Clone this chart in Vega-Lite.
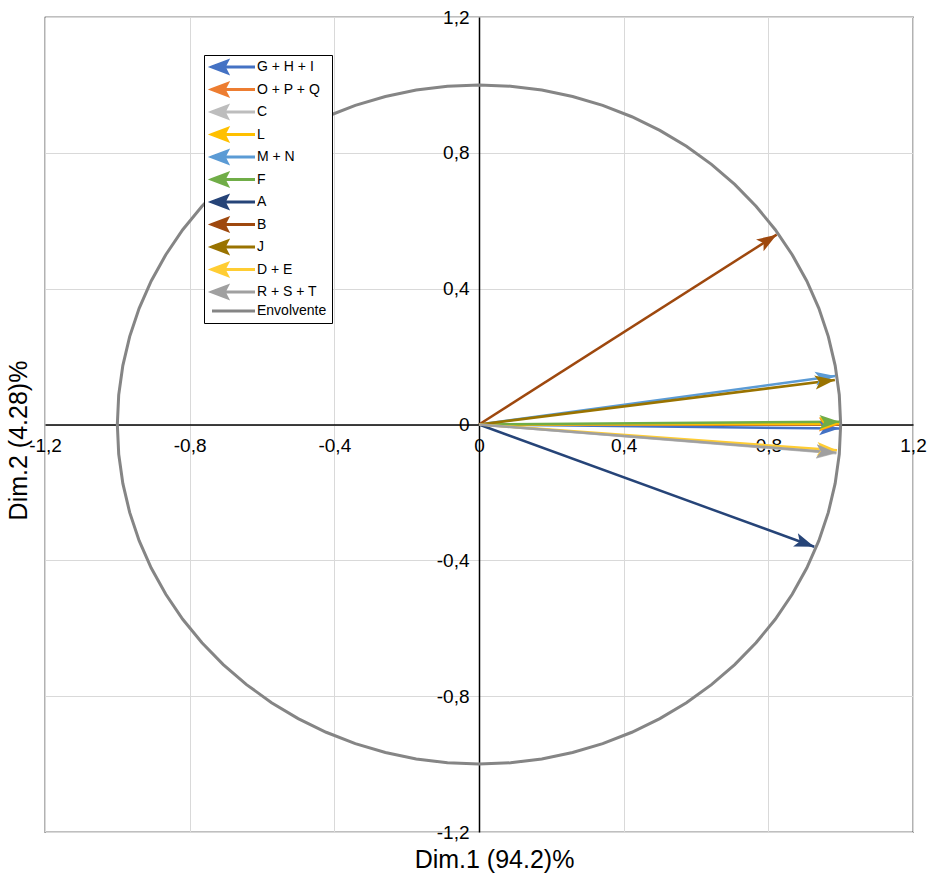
{
  "$schema": "https://vega.github.io/schema/vega-lite/v6.json",
  "width": 868,
  "height": 815,
  "autosize": {"type": "none"},
  "padding": {"left": 45, "top": 17, "right": 17, "bottom": 45},
  "background": "white",
  "config": {
    "font": "Liberation Sans",
    "view": {"stroke": "black", "strokeWidth": 1.2}
  },
  "datasets": {
    "arrows": [
      {"series": "G + H + I", "x": 0.996, "y": -0.012},
      {"series": "O + P + Q", "x": 0.995, "y": 0.0},
      {"series": "C", "x": 0.988, "y": -0.085},
      {"series": "L", "x": 0.996, "y": 0.002},
      {"series": "M + N", "x": 0.985, "y": 0.143},
      {"series": "F", "x": 0.997, "y": 0.008},
      {"series": "A", "x": 0.927, "y": -0.36},
      {"series": "B", "x": 0.823, "y": 0.559},
      {"series": "J", "x": 0.984, "y": 0.131},
      {"series": "D + E", "x": 0.99, "y": -0.076},
      {"series": "R + S + T", "x": 0.988, "y": -0.083}
    ],
    "circle": [
      {"i": 0, "x": 1, "y": 0},
      {"i": 1, "x": 0.9962, "y": 0.0872},
      {"i": 2, "x": 0.9848, "y": 0.1736},
      {"i": 3, "x": 0.9659, "y": 0.2588},
      {"i": 4, "x": 0.9397, "y": 0.342},
      {"i": 5, "x": 0.9063, "y": 0.4226},
      {"i": 6, "x": 0.866, "y": 0.5},
      {"i": 7, "x": 0.8192, "y": 0.5736},
      {"i": 8, "x": 0.766, "y": 0.6428},
      {"i": 9, "x": 0.7071, "y": 0.7071},
      {"i": 10, "x": 0.6428, "y": 0.766},
      {"i": 11, "x": 0.5736, "y": 0.8192},
      {"i": 12, "x": 0.5, "y": 0.866},
      {"i": 13, "x": 0.4226, "y": 0.9063},
      {"i": 14, "x": 0.342, "y": 0.9397},
      {"i": 15, "x": 0.2588, "y": 0.9659},
      {"i": 16, "x": 0.1736, "y": 0.9848},
      {"i": 17, "x": 0.0872, "y": 0.9962},
      {"i": 18, "x": 0, "y": 1},
      {"i": 19, "x": -0.0872, "y": 0.9962},
      {"i": 20, "x": -0.1736, "y": 0.9848},
      {"i": 21, "x": -0.2588, "y": 0.9659},
      {"i": 22, "x": -0.342, "y": 0.9397},
      {"i": 23, "x": -0.4226, "y": 0.9063},
      {"i": 24, "x": -0.5, "y": 0.866},
      {"i": 25, "x": -0.5736, "y": 0.8192},
      {"i": 26, "x": -0.6428, "y": 0.766},
      {"i": 27, "x": -0.7071, "y": 0.7071},
      {"i": 28, "x": -0.766, "y": 0.6428},
      {"i": 29, "x": -0.8192, "y": 0.5736},
      {"i": 30, "x": -0.866, "y": 0.5},
      {"i": 31, "x": -0.9063, "y": 0.4226},
      {"i": 32, "x": -0.9397, "y": 0.342},
      {"i": 33, "x": -0.9659, "y": 0.2588},
      {"i": 34, "x": -0.9848, "y": 0.1736},
      {"i": 35, "x": -0.9962, "y": 0.0872},
      {"i": 36, "x": -1, "y": 0},
      {"i": 37, "x": -0.9962, "y": -0.0872},
      {"i": 38, "x": -0.9848, "y": -0.1736},
      {"i": 39, "x": -0.9659, "y": -0.2588},
      {"i": 40, "x": -0.9397, "y": -0.342},
      {"i": 41, "x": -0.9063, "y": -0.4226},
      {"i": 42, "x": -0.866, "y": -0.5},
      {"i": 43, "x": -0.8192, "y": -0.5736},
      {"i": 44, "x": -0.766, "y": -0.6428},
      {"i": 45, "x": -0.7071, "y": -0.7071},
      {"i": 46, "x": -0.6428, "y": -0.766},
      {"i": 47, "x": -0.5736, "y": -0.8192},
      {"i": 48, "x": -0.5, "y": -0.866},
      {"i": 49, "x": -0.4226, "y": -0.9063},
      {"i": 50, "x": -0.342, "y": -0.9397},
      {"i": 51, "x": -0.2588, "y": -0.9659},
      {"i": 52, "x": -0.1736, "y": -0.9848},
      {"i": 53, "x": -0.0872, "y": -0.9962},
      {"i": 54, "x": 0, "y": -1},
      {"i": 55, "x": 0.0872, "y": -0.9962},
      {"i": 56, "x": 0.1736, "y": -0.9848},
      {"i": 57, "x": 0.2588, "y": -0.9659},
      {"i": 58, "x": 0.342, "y": -0.9397},
      {"i": 59, "x": 0.4226, "y": -0.9063},
      {"i": 60, "x": 0.5, "y": -0.866},
      {"i": 61, "x": 0.5736, "y": -0.8192},
      {"i": 62, "x": 0.6428, "y": -0.766},
      {"i": 63, "x": 0.7071, "y": -0.7071},
      {"i": 64, "x": 0.766, "y": -0.6428},
      {"i": 65, "x": 0.8192, "y": -0.5736},
      {"i": 66, "x": 0.866, "y": -0.5},
      {"i": 67, "x": 0.9063, "y": -0.4226},
      {"i": 68, "x": 0.9397, "y": -0.342},
      {"i": 69, "x": 0.9659, "y": -0.2588},
      {"i": 70, "x": 0.9848, "y": -0.1736},
      {"i": 71, "x": 0.9962, "y": -0.0872},
      {"i": 72, "x": 1, "y": 0}
    ]
  },
  "layer": [
    {
      "data": {"name": "circle"},
      "transform": [{"calculate": "'Envolvente'", "as": "series"}],
      "mark": {"type": "line", "strokeWidth": 3, "clip": false},
      "encoding": {
        "x": {
          "field": "x", "type": "quantitative",
          "scale": {"domain": [-1.2, 1.2], "nice": false, "zero": false},
          "axis": {
            "orient": "bottom",
            "offset": -407.5,
            "values": [-1.2, -0.8, -0.4, 0, 0.4, 0.8, 1.2],
            "labelExpr": "datum.value == 0 ? '0' : replace(replace(format(datum.value, '.1f'), '.', ','), '\u2212', '-')",
            "domainColor": "black",
            "domainWidth": 1.5,
            "ticks": false,
            "tickSize": 0,
            "labelPadding": 12,
            "labelFont": "Liberation Sans",
            "labelFontSize": 19,
            "labelColor": "black",
            "labelBound": false,
            "labelOverlap": false,
            "labelFlush": false,
            "grid": true,
            "gridColor": "#d9d9d9",
            "gridWidth": 1,
            "title": "Dim.1 (94.2)%",
            "titleFont": "Liberation Sans",
            "titleFontSize": 25,
            "titleFontWeight": "normal",
            "titleColor": "black",
            "titleX": 449,
            "titleY": 435,
            "titleBaseline": "middle"
          }
        },
        "y": {
          "field": "y", "type": "quantitative",
          "scale": {"domain": [-1.2, 1.2], "nice": false, "zero": false},
          "axis": {
            "orient": "left",
            "offset": -434,
            "values": [-1.2, -0.8, -0.4, 0, 0.4, 0.8, 1.2],
            "labelExpr": "datum.value == 0 ? '0' : replace(replace(format(datum.value, '.1f'), '.', ','), '\u2212', '-')",
            "domainColor": "black",
            "domainWidth": 1.5,
            "ticks": false,
            "tickSize": 0,
            "labelPadding": 10,
            "labelFont": "Liberation Sans",
            "labelFontSize": 19,
            "labelColor": "black",
            "labelBound": false,
            "labelOverlap": false,
            "labelFlush": false,
            "grid": true,
            "gridColor": "#d9d9d9",
            "gridWidth": 1,
            "title": "Dim.2 (4.28)%",
            "titleFont": "Liberation Sans",
            "titleFontSize": 25,
            "titleFontWeight": "normal",
            "titleColor": "black",
            "titleX": -461,
            "titleY": 423,
            "titleBaseline": "middle"
          }
        },
        "order": {"field": "i", "type": "quantitative"},
        "color": {
          "field": "series", "type": "nominal",
          "scale": {
            "domain": ["G + H + I", "O + P + Q", "C", "L", "M + N", "F", "A", "B", "J", "D + E", "R + S + T", "Envolvente"],
            "range": ["#4472C4", "#ED7D31", "#BDBDBD", "#FFC000", "#5B9BD5", "#70AD47", "#264478", "#9E480E", "#997300", "#FFCD33", "#A0A0A0", "#858585"]
          },
          "legend": {
            "title": null,
            "orient": "none",
            "legendX": 159,
            "legendY": 38,
            "strokeColor": "black",
            "fillColor": "white",
            "padding": 5,
            "labelFont": "Liberation Sans",
            "labelFontSize": 14,
            "labelColor": "black",
            "labelOffset": 34,
            "symbolSize": 100,
            "rowPadding": -1.5,
            "labelLimit": 200,
            "encode": {
              "symbols": {
                "update": {
                  "shape": {"signal": "datum.value === 'Envolvente' ? 'M7.8,0 L-0.8,0' : 'M7.8,0 L-0.8,0 M-0.8,0 L2.2,-1.15 L1.6,0 L2.2,1.15 Z'"},
                  "fill": {"scale": "color", "field": "value"},
                  "stroke": {"scale": "color", "field": "value"},
                  "strokeWidth": {"value": 3},
                  "opacity": {"value": 1},
                  "fillOpacity": {"value": 1},
                  "strokeOpacity": {"value": 1}
                }
              }
            }
          }
        }
      }
    },
    {
      "data": {"name": "arrows"},
      "transform": [
        {"calculate": "0", "as": "x0"},
        {"calculate": "0", "as": "y0"}
      ],
      "mark": {"type": "rule", "strokeWidth": 2.5, "strokeCap": "butt"},
      "encoding": {
        "x": {"field": "x0", "type": "quantitative"},
        "y": {"field": "y0", "type": "quantitative"},
        "x2": {"field": "x"},
        "y2": {"field": "y"},
        "color": {"field": "series", "type": "nominal"}
      }
    },
    {
      "data": {"name": "arrows"},
      "transform": [
        {"calculate": "-atan2(datum.y * 815 / 2.4, datum.x * 868 / 2.4) * 180 / PI", "as": "ang"}
      ],
      "mark": {
        "type": "point",
        "filled": true,
        "opacity": 1,
        "size": 400,
        "shape": "M0,0 L-2,-0.7 L-1.55,0 L-2,0.7 Z"
      },
      "encoding": {
        "x": {"field": "x", "type": "quantitative"},
        "y": {"field": "y", "type": "quantitative"},
        "angle": {"field": "ang", "type": "quantitative", "scale": null},
        "color": {"field": "series", "type": "nominal"}
      }
    }
  ]
}
